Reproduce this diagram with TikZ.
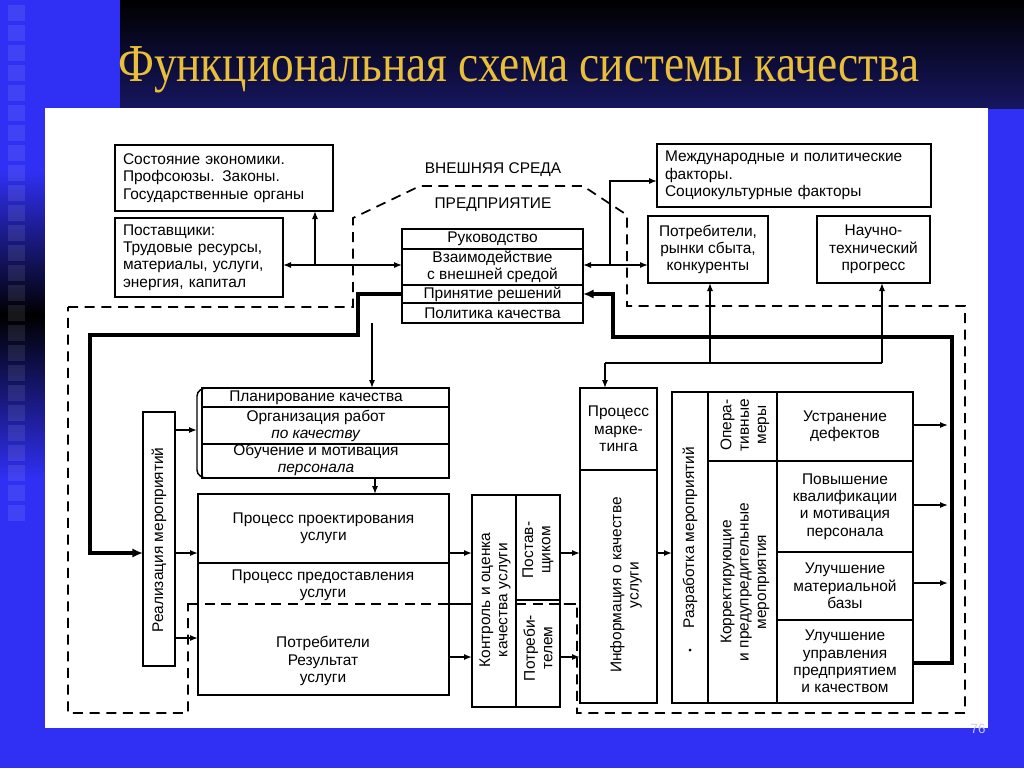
\documentclass[tikz,border=0pt]{standalone}
\usepackage{fontspec}
\setmainfont{Liberation Sans}
\newfontfamily\titlefont{Liberation Serif}
\usetikzlibrary{arrows.meta}
\newlength\pxl
\setlength\pxl{0.75pt}
\newcommand\dfont{\fontsize{11.6pt}{13pt}\selectfont}
\definecolor{slideblue}{RGB}{48,48,245}
\definecolor{topnavy}{RGB}{22,22,95}
\definecolor{titlegold}{RGB}{232,190,58}
\newcommand\cell[6]{\node[bx,anchor=north west,minimum width=#4\pxl,minimum height=#5\pxl] (#1) at (#2,#3) {#6};}
\tikzset{
  bx/.style={draw=black,line width=1.1pt,fill=white,inner sep=0pt,outer sep=0pt,font=\dfont,align=center},
  lbl/.style={font=\dfont,align=center,inner sep=0pt},
  >={Latex[length=6pt,width=4.6pt]},
  arr/.style={line width=0.95pt,->},
  darr/.style={line width=0.95pt,<->},
  marr/.style={line width=1.8pt,->},
  thk/.style={line width=2.6pt,line join=miter,-{Latex[length=8pt,width=7pt]}},
  bound/.style={line width=1.3pt,dash pattern=on 7.5pt off 5pt},
}
\begin{document}
\begin{tikzpicture}[x=0.75pt,y=-0.75pt]
\useasboundingbox (0,0) rectangle (1024,768);
% slide background
\fill[slideblue] (0,0) rectangle (1024,768);
\shade[top color=black,bottom color=topnavy] (120,0) rectangle (1024,108);
\shade[top color=slideblue,bottom color=black] (0,170) rectangle (45,315);
\shade[top color=black,bottom color=slideblue] (0,315) rectangle (45,480);
\foreach \k in {0,...,25} \fill[white,opacity=0.09] (8,{5+20*\k}) rectangle (25,{21+20*\k});
\fill[white] (45,108) rectangle (988,728);
\node[font=\fontsize{10pt}{10pt}\selectfont,text={rgb,255:red,200;green,200;blue,255},inner sep=0pt] (pnum) at (978,729) {76};
\node[font=\titlefont\fontsize{40pt}{44pt}\selectfont,text=titlegold,anchor=base west,inner sep=0pt,xscale=0.85] (title) at (118,81) {Функциональная схема системы качества};

% coordinates
\coordinate (jL) at (315,265);
\coordinate (jR) at (610,265);
\coordinate (y181) at (0,181);
\coordinate (y295) at (0,294);
\coordinate (x372) at (372,0);
\coordinate (x375) at (375,0);
\coordinate (y430) at (0,430);
\coordinate (y553) at (0,553);
\coordinate (y638) at (0,638);
\coordinate (y657) at (0,657);
\coordinate (mk) at (605,363);
\coordinate (k1) at (710,363);
\coordinate (k2) at (882,363);
\coordinate (a1) at (948,425);
\coordinate (a2) at (948,505);
\coordinate (a3) at (948,583);
\coordinate (y663) at (0,663);
\coordinate (b1) at (188,604);
\coordinate (b2) at (577,604);

% enterprise boundary (boxes drawn over it)
\draw[bound] (68,307) -- (353,307) -- (353,218) -- (420,186) -- (583,186) -- (627,215) -- (627,306) -- (965,306) -- (965,713) -- (577,713) -- (b2) -- (b1) -- (188,713) -- (68,713) -- cycle;

% outer environment boxes
\node[bx,anchor=north west,minimum width=218\pxl,minimum height=66\pxl,text width=202\pxl,align=left] (econ) at (115,145) {Состояние экономики.\\Профсоюзы. Законы.\\Государственные органы};
\node[bx,anchor=north west,minimum width=168\pxl,minimum height=79\pxl,text width=152\pxl,align=left] (supp) at (115,218) {Поставщики:\\Трудовые ресурсы,\\материалы, услуги,\\энергия, капитал};
\node[bx,anchor=north west,minimum width=274\pxl,minimum height=63\pxl,text width=258\pxl,align=left] (intl) at (657,144) {Международные и политические\\факторы.\\Социокультурные факторы};
\cell{cons}{648}{216}{120}{67}{Потребители,\\рынки сбыта,\\конкуренты}
\cell{sci}{817}{216}{113}{67}{Научно-\\технический\\прогресс}
\node[lbl] (ext) at (493,170) {ВНЕШНЯЯ СРЕДА};
\node[lbl] (ent) at (493,205) {ПРЕДПРИЯТИЕ};

% management
\cell{m1}{402}{229}{181}{20}{Руководство}
\cell{m2}{402}{249}{181}{36}{Взаимодействие\\с внешней средой}
\cell{m3}{402}{285}{181}{18}{Принятие решений}
\cell{m4}{402}{303}{181}{20}{Политика качества}

% planning
\node[inner sep=0pt,outer sep=0pt,anchor=north west,minimum width=252\pxl,minimum height=90\pxl] (plan) at (197,388) {};
\cell{pl1}{202}{388}{247}{19}{}
\cell{pl2}{202}{407}{247}{37}{}
\cell{pl3}{202}{444}{247}{34}{}
\draw[line width=1.1pt] (207,388) to[out=180,in=90] (197,396) -- (197,470) to[out=-90,in=180] (207,478);
\node[lbl] (tpl1) at (316,398) {Планирование качества};
\node[lbl] (tpl2) at (316,426) {Организация работ\\\textit{по качеству}};
\node[lbl] (tpl3) at (316,460) {Обучение и мотивация\\\textit{персонала}};

% processes
\cell{p1}{198}{494}{251}{69}{Процесс проектирования\\услуги}
\cell{p2}{198}{563}{251}{132}{}
\node[lbl] (tp2a) at (323,585) {Процесс предоставления\\услуги};
\node[lbl] (tp2b) at (323,661) {Потребители\\Результат\\услуги};

% control
\cell{c1}{472}{495}{44}{212}{}
\cell{c2}{516}{495}{44}{105}{}
\cell{c3}{516}{600}{44}{107}{}
\node[lbl,rotate=90] (tc1) at (495,600) {Контроль и оценка\\качества услуги};
\node[lbl,rotate=90] (tc2) at (538,550) {Постав-\\щиком};
\node[lbl,rotate=90] (tc3) at (538,648) {Потреби-\\телем};

% boundary segment visible across the process box and the right column
\draw[bound] (b1) -- (c1.west |- b1);
\draw[bound] (c2.west |- b2) -- (b2);

% information
\cell{i1}{580}{388}{77}{82}{Процесс\\марке-\\тинга}
\cell{i2}{580}{470}{77}{233}{}
\node[lbl,rotate=90] (ti2) at (626,585) {Информация о качестве\\услуги};

% development of measures
\cell{z0}{672}{392}{36}{311}{}
\cell{zo}{708}{392}{69}{69}{}
\cell{zk}{708}{461}{69}{242}{}
\cell{r1}{777}{392}{136}{69}{Устранение\\дефектов}
\cell{r2}{777}{461}{136}{91}{Повышение\\квалификации\\и мотивация\\персонала}
\cell{r3}{777}{552}{136}{68}{Улучшение\\материальной\\базы}
\cell{r4}{777}{620}{136}{83}{Улучшение\\управления\\предприятием\\и качеством}
\node[lbl,rotate=90] (tz0) at (690,538) {Разработка мероприятий};
\node[circle,fill=black,inner sep=0.8pt] (dot) at (690,650) {};
\node[lbl,rotate=90] (tzo) at (745,425) {Опера-\\тивные\\меры};
\node[lbl,rotate=90] (tzk) at (745,582) {Корректирующие\\и предупредительные\\мероприятия};

% realization
\cell{real}{143}{412}{32}{254}{}
\node[lbl,rotate=90] (treal) at (159,540) {Реализация мероприятий};

% connectors
\draw[darr] (supp.east |- jL) -- (m2.west |- jL);
\draw[arr] (jL) -- (jL |- econ.south);
\draw[darr] (m2.east |- jR) -- (cons.west |- jR);
\draw[arr] (jR) |- (intl.west |- y181);
\draw[thk] (m3.west) -- (358,294) -- (358,335) -- (90,335) -- (90,553) -- (real.west |- y553);
\draw[thk] (r4.east |- y663) -- (952,663) -- (952,337) -- (613,337) -- (613,294) -- (m3.east |- y295);
\draw[arr] (m4.south -| x372) -- (pl1.north -| x372);
\draw[arr] (pl3.south -| x375) -- (p1.north -| x375);
\draw[marr] (real.east |- y430) -- (plan.west |- y430);
\draw[marr] (real.east |- y553) -- (p1.west |- y553);
\draw[marr] (real.east |- y638) -- (p2.west |- y638);
\draw[marr] (p1.east |- y553) -- (c1.west |- y553);
\draw[marr] (p2.east |- y657) -- (c1.west |- y657);
\draw[marr] (c2.east |- y553) -- (i2.west |- y553);
\draw[marr] (c3.east |- y657) -- (i2.west |- y657);
\draw[marr] (i2.east |- y553) -- (z0.west |- y553);
\draw[arr] (mk) -- (i1.north -| mk);
\draw[line width=0.95pt] (mk) -- (k2);
\draw[arr] (k1) -- (cons.south -| k1);
\draw[arr] (k2) -- (sci.south -| k2);
\draw[marr] (r1.east |- a1) -- (a1);
\draw[marr] (r2.east |- a2) -- (a2);
\draw[marr] (r3.east |- a3) -- (a3);
\end{tikzpicture}
\end{document}
